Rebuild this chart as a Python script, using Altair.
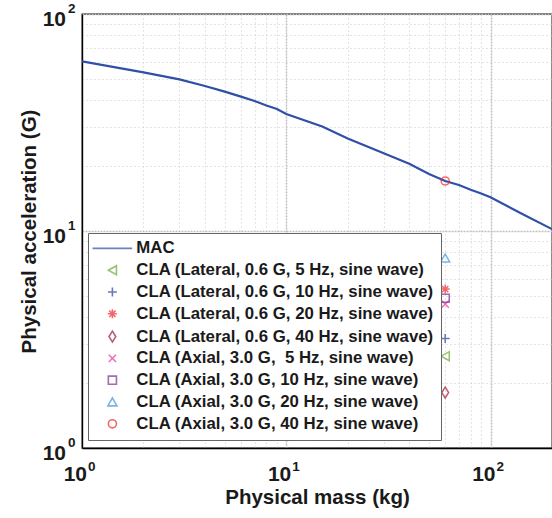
import altair as alt
import pandas as pd

# MAC curve
mac_mass = [1, 2, 3, 4, 5, 6, 7, 8, 9, 10, 15, 20, 30, 40, 50, 60, 70, 80, 90, 100, 140, 200]
mac_accel = [60.5, 53.8, 50.0, 46.6, 43.9, 41.6, 39.7, 37.9, 36.5, 34.6, 30.3, 26.7,
             22.8, 20.4, 18.3, 17.0, 16.3, 15.5, 14.9, 14.3, 12.1, 10.2]

series = [
    "MAC",
    "CLA (Lateral, 0.6 G, 5 Hz, sine wave)",
    "CLA (Lateral, 0.6 G, 10 Hz, sine wave)",
    "CLA (Lateral, 0.6 G, 20 Hz, sine wave)",
    "CLA (Lateral, 0.6 G, 40 Hz, sine wave)",
    "CLA (Axial, 3.0 G,\u00a0 5 Hz, sine wave)",
    "CLA (Axial, 3.0 G, 10 Hz, sine wave)",
    "CLA (Axial, 3.0 G, 20 Hz, sine wave)",
    "CLA (Axial, 3.0 G, 40 Hz, sine wave)",
]
cla_mass = [60, 60, 60, 60, 60, 60, 60, 60]
cla_accel = [2.65, 3.2, 5.4, 1.8, 4.6, 4.9, 7.5, 17.0]

colors = ["#2F4FA8", "#6FA83A", "#2E3F9E", "#F0282D", "#A0182F",
          "#E8329A", "#7A2E8F", "#3F96DC", "#F02828"]
shapes = [
    "M-4.4,0H4.4",
    "M-0.9,0L0.9,-1L0.9,1Z",
    "M-1,0H1M0,-1V1",
    "M-1,0H1M0,-1V1M-0.7,-0.7L0.7,0.7M-0.7,0.7L0.7,-0.7",
    "M0,-1.2L0.75,0L0,1.2L-0.75,0Z",
    "M-0.8,-0.8L0.8,0.8M-0.8,0.8L0.8,-0.8",
    "M-0.9,-0.9H0.9V0.9H-0.9Z",
    "M0,-0.9L1,0.85L-1,0.85Z",
    "M0.9,0A0.9,0.9,0,1,1,-0.9,0A0.9,0.9,0,1,1,0.9,0Z",
]

x_ticks = [m * 10 ** e for e in range(0, 3) for m in range(1, 10)]
y_ticks = [m * 10 ** e for e in range(0, 2) for m in range(1, 10)] + [100]

# decade tick labels (10^n)
decades = [1, 10, 100]
exponents = ["0", "1", "2"]

mac_df = pd.DataFrame({"mass": mac_mass, "accel": mac_accel})
cla_df = pd.DataFrame({"mass": cla_mass, "accel": cla_accel, "series": series[1:]})
xlab_df = pd.DataFrame({"mass": decades, "exp": exponents, "base": ["10"] * 3})
ylab_df = pd.DataFrame({"accel": decades, "exp": exponents, "base": ["10"] * 3})

FONT = "Liberation Sans"
TXT = "#1a1a1a"
major_test = "datum.value == 1 || datum.value == 10 || datum.value == 100"

grid_kwargs = dict(
    grid=True,
    gridColor={"condition": {"test": major_test, "value": "#c0c0c0"}, "value": "#c8c8c8"},
    gridDash={"condition": {"test": major_test, "value": [2, 1]}, "value": [1, 3]},
    gridWidth={"condition": {"test": major_test, "value": 1.5}, "value": 1},
    labels=False,
    titleFont=FONT, titleFontSize=20.5, titleFontWeight="bold", titleColor=TXT,
    domainColor="#000", domainWidth=1.3, ticks=False,
)

x_enc = alt.X("mass:Q",
              scale=alt.Scale(type="log", domain=[1, 200], nice=False),
              axis=alt.Axis(values=x_ticks, title="Physical mass (kg)",
                            titlePadding=39, **grid_kwargs))
y_enc = alt.Y("accel:Q",
              scale=alt.Scale(type="log", domain=[1, 100], nice=False),
              axis=alt.Axis(values=y_ticks, title="Physical acceleration (G)",
                            titlePadding=43, **grid_kwargs))

line = alt.Chart(mac_df).mark_line(color=colors[0], strokeWidth=2.2, clip=True).encode(
    x=x_enc, y=y_enc
)

legend = alt.Legend(
    title=None, orient="none", legendX=6, legendY=219,
    strokeColor="#666", fillColor="white", padding=7,
    labelFont=FONT, labelFontSize=16.8, labelFontWeight="bold",
    labelColor=TXT, labelLimit=500, labelOffset=15.5,
    symbolSize=81, symbolStrokeWidth=1.6, rowPadding=3.8,
    symbolOffset=9, symbolFillColor="transparent")

points = alt.Chart(cla_df).mark_point(filled=False, size=81, strokeWidth=1.5).encode(
    x=x_enc, y=y_enc,
    color=alt.Color("series:N", scale=alt.Scale(domain=series, range=colors), legend=legend),
    shape=alt.Shape("series:N", scale=alt.Scale(domain=series, range=shapes), legend=legend),
)

# axis tick labels as 10 with superscript exponent
xbase = alt.Chart(xlab_df).mark_text(
    align="right", baseline="alphabetic", dx=5, font=FONT, fontSize=21,
    fontWeight="bold", color=TXT).encode(x=x_enc, y=alt.value(467), text="base:N")
xexp = alt.Chart(xlab_df).mark_text(
    align="left", baseline="alphabetic", dx=6, font=FONT, fontSize=13.5,
    fontWeight="bold", color=TXT).encode(x=x_enc, y=alt.value(457), text="exp:N")
ybase = alt.Chart(ylab_df).mark_text(
    align="right", baseline="alphabetic", dy=12, font=FONT, fontSize=21,
    fontWeight="bold", color=TXT).encode(y=y_enc, x=alt.value(-16), text="base:N")
yexp = alt.Chart(ylab_df).mark_text(
    align="left", baseline="alphabetic", dy=-1, font=FONT, fontSize=13.5,
    fontWeight="bold", color=TXT).encode(y=y_enc, x=alt.value(-14), text="exp:N")

chart = alt.layer(line, points, xbase, xexp, ybase, yexp).properties(
    width=470, height=434,
    autosize=alt.AutoSizeParams(type="none"),
    padding={"left": 82, "top": 14, "right": 0, "bottom": 70},
    background="white",
).configure_view(stroke="#000", strokeWidth=1.3)

chart.save("out.html", embed_options={"renderer": "svg", "actions": False})
